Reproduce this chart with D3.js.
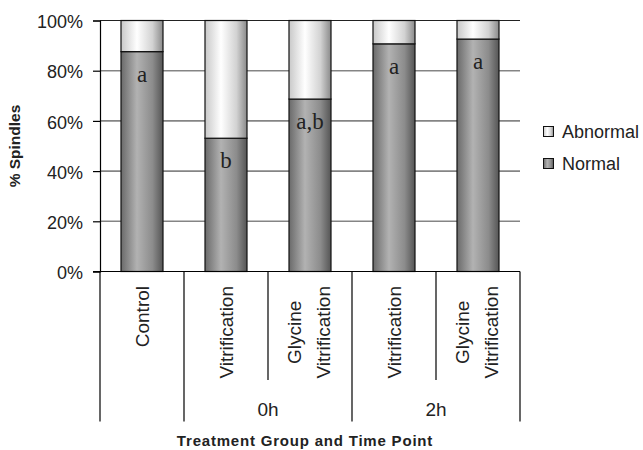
<!DOCTYPE html>
<html>
<head>
<meta charset="utf-8">
<script src="https://cdn.jsdelivr.net/npm/d3@7"></script>
<style>
  body { margin: 0; background: #fff; }
  svg { font-family: "Liberation Sans", Arial, sans-serif; }
</style>
</head>
<body>
<div id="chart-container"></div>
<script>
// Data
const categoryIds = ["ctrl", "vit0", "gly0", "vit2", "gly2"];
const categoryLines = [["Control"], ["Vitrification"], ["Glycine", "Vitrification"], ["Vitrification"], ["Glycine", "Vitrification"]];
const timeGroups = ["", "0h", "0h", "2h", "2h"];
const normalValues = [87.6, 53.1, 68.7, 90.7, 92.6];
const abnormalValues = [12.4, 46.9, 31.3, 9.3, 7.4];
const letters = ["a", "b", "a,b", "a", "a"];
const yTicks = [0, 20, 40, 60, 80, 100];
const seriesNames = ["Abnormal", "Normal"];

const width = 643, height = 450;
const plotLeft = 100, plotRight = 520, plotTop = 20.5, plotBottom = 271.5;

const svg = d3.select("#chart-container")
              .append("svg")
              .attr("width", width)
              .attr("height", height);

// gradients for the cylinder look
const defs = svg.append("defs");
function gradient(id, stops) {
    const g = defs.append("linearGradient").attr("id", id)
                  .attr("x1", "0%").attr("x2", "100%").attr("y1", "0%").attr("y2", "0%");
    stops.forEach(s => g.append("stop").attr("offset", s[0]).attr("stop-color", s[1]));
}
gradient("grad-normal", [["0%", "#6a6a6a"], ["38%", "#b2b2b2"], ["75%", "#8c8c8c"], ["100%", "#555555"]]);
gradient("grad-abnormal", [["0%", "#c8c8c8"], ["38%", "#ffffff"], ["75%", "#d2d2d2"], ["100%", "#8a8a8a"]]);

const x = d3.scaleBand()
            .domain(categoryIds)
            .range([plotLeft, plotRight])
            .paddingInner(0.5)
            .paddingOuter(0.25);

const y = d3.scaleLinear()
            .domain([0, 100])
            .range([plotBottom, plotTop]);

// gridlines
svg.append("g")
   .selectAll("line")
   .data(yTicks.filter(t => t > 0))
   .enter().append("line")
   .attr("x1", plotLeft).attr("x2", plotRight)
   .attr("y1", d => y(d)).attr("y2", d => y(d))
   .attr("stroke", d => d === 100 ? "#222" : "#858585")
   .attr("stroke-width", d => d === 100 ? 1.2 : 1.6);

// y axis
const yAxis = svg.append("g")
   .attr("transform", "translate(" + plotLeft + ",0)")
   .call(d3.axisLeft(y).tickValues(yTicks).tickSize(7).tickPadding(10).tickFormat(d => d + "%"));
yAxis.select(".domain").attr("stroke", "#000").attr("stroke-width", 1.2);
yAxis.selectAll(".tick line").attr("stroke", "#000").attr("stroke-width", 1.2);
yAxis.selectAll(".tick text")
     .attr("font-size", 18)
     .attr("font-family", "Liberation Sans, Arial, sans-serif")
     .attr("fill", "#222")
     .attr("dy", "0.4em");

// stacked bars
const stackData = categoryIds.map((id, i) => ({ id: id, Normal: normalValues[i], Abnormal: abnormalValues[i] }));
const stack = d3.stack().keys(["Normal", "Abnormal"])(stackData);

svg.append("g")
   .selectAll("g")
   .data(stack)
   .enter().append("g")
   .attr("fill", d => d.key === "Normal" ? "url(#grad-normal)" : "url(#grad-abnormal)")
   .selectAll("rect")
   .data(d => d)
   .enter().append("rect")
   .attr("x", d => x(d.data.id))
   .attr("width", x.bandwidth())
   .attr("y", d => y(d[1]))
   .attr("height", d => y(d[0]) - y(d[1]))
   .attr("stroke", "#111")
   .attr("stroke-width", 1.2);

// significance letters
svg.append("g")
   .selectAll("text")
   .data(letters)
   .enter().append("text")
   .attr("x", (d, i) => x(categoryIds[i]) + x.bandwidth() / 2)
   .attr("y", (d, i) => y(normalValues[i]) + 30)
   .attr("text-anchor", "middle")
   .attr("font-family", "Liberation Serif, Times New Roman, serif")
   .attr("font-size", 23)
   .attr("fill", "#222")
   .text(d => d);

// category axis
const axisG = svg.append("g");
axisG.append("line")
     .attr("x1", plotLeft - 7).attr("x2", plotRight)
     .attr("y1", plotBottom).attr("y2", plotBottom)
     .attr("stroke", "#000").attr("stroke-width", 1.2);

// dividers: long where time group changes, short inside a group
const step = x.step();
const dividers = d3.range(categoryIds.length + 1).map(i => {
    const long = i === 0 || i === categoryIds.length || timeGroups[i] !== timeGroups[i - 1];
    return { x: plotLeft + i * step, long: long };
});
axisG.selectAll(".div")
     .data(dividers)
     .enter().append("line")
     .attr("x1", d => d.x).attr("x2", d => d.x)
     .attr("y1", plotBottom)
     .attr("y2", d => d.long ? 421.5 : 380)
     .attr("stroke", "#000").attr("stroke-width", 1.2);

// rotated category labels
categoryIds.forEach((id, i) => {
    const cx = x(id) + x.bandwidth() / 2;
    const lines = categoryLines[i];
    const g = axisG.append("g");
    const texts = lines.map((line, j) => {
        const off = lines.length === 1 ? 7 : (j === 0 ? -9.5 : 19.5);
        return g.append("text")
                .attr("font-size", 19)
                .attr("fill", "#222")
                .attr("text-anchor", "middle")
                .attr("data-off", off)
                .text(line);
    });
    const maxLen = d3.max(texts, t => t.node().getComputedTextLength());
    const cy = 286 + maxLen / 2;
    texts.forEach(t => {
        t.attr("transform", "translate(" + (cx + (+t.attr("data-off"))) + "," + cy + ") rotate(-90)");
    });
});

// time group labels
const groupNames = Array.from(new Set(timeGroups.filter(g => g !== "")));
groupNames.forEach(name => {
    const idx = timeGroups.map((g, i) => g === name ? i : -1).filter(i => i >= 0);
    const x0 = x(categoryIds[idx[0]]), x1 = x(categoryIds[idx[idx.length - 1]]) + x.bandwidth();
    axisG.append("text")
         .attr("x", (x0 + x1) / 2)
         .attr("y", 416)
         .attr("text-anchor", "middle")
         .attr("font-size", 19)
         .attr("fill", "#222")
         .text(name);
});

// axis titles
svg.append("text")
   .attr("x", 305)
   .attr("y", 446)
   .attr("text-anchor", "middle")
   .attr("font-size", 15)
   .attr("font-weight", "bold")
   .attr("letter-spacing", 0.8)
   .attr("fill", "#222")
   .text("Treatment Group and Time Point");

svg.append("text")
   .attr("transform", "translate(20," + ((plotTop + plotBottom) / 2) + ") rotate(-90)")
   .attr("text-anchor", "middle")
   .attr("font-size", 15.5)
   .attr("font-weight", "bold")
   .attr("fill", "#222")
   .text("% Spindles");

// legend
const legend = svg.append("g").attr("transform", "translate(543,126)");
seriesNames.forEach((name, i) => {
    const item = legend.append("g").attr("transform", "translate(0," + i * 32 + ")");
    item.append("rect")
        .attr("x", 0.5).attr("y", 0.5)
        .attr("width", 10).attr("height", 10)
        .attr("fill", name === "Normal" ? "url(#grad-normal)" : "url(#grad-abnormal)")
        .attr("stroke", "#111");
    item.append("text")
        .attr("x", 19)
        .attr("y", 12)
        .attr("font-size", 18)
        .attr("fill", "#222")
        .text(name);
});
</script>
</body>
</html>
